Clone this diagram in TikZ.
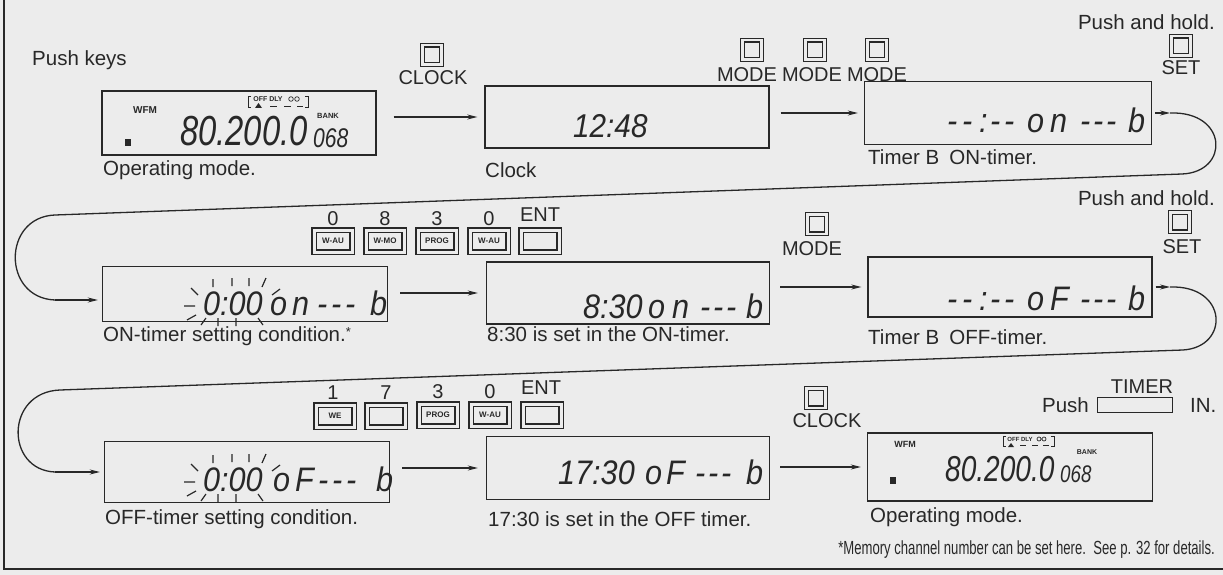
\documentclass[tikz,border=0pt]{standalone}
\usepackage{fontspec}
\usepackage{graphicx}
\setmainfont{Liberation Sans}
\newfontfamily\lcdfont{Liberation Sans}[FakeStretch=0.9]
\newfontfamily\lcdfontn{Liberation Sans}[FakeStretch=0.78]
\usetikzlibrary{arrows.meta,calc}
\definecolor{paper}{RGB}{236,236,236}
\definecolor{ink}{RGB}{40,40,40}
\newcommand\lcdc[2]{\makebox[#1pt][l]{#2}}
\newcommand\blinkrays[2]{%
\begin{scope}[shift={(#1,#2)}]
\draw[ray] (213,279)--(213,287) (232,278)--(232,286) (249,278)--(249,286) (266,278)--(262,287)
 (191,288)--(198,295) (280,289)--(272,295) (184,306)--(195,306) (187,320)--(196,315)
 (201,325)--(206,318) (218,318)--(218,326) (236,318)--(236,326) (258,318)--(263,325);
\end{scope}}
\begin{document}
\begin{tikzpicture}[x=1pt,y=-1pt,
  lcd/.style={draw=ink, line width=1.4pt, inner sep=0pt},
  lbl/.style={font=\fontsize{20.5}{24}\selectfont, text=ink, inner sep=0pt, anchor=west},
  keylbl/.style={font=\fontsize{20}{24}\selectfont, text=ink, inner sep=0pt},
  sqkey/.style={draw=ink, double=paper, double distance=2.5pt, line width=1.1pt, minimum width=19pt, minimum height=19.5pt, inner sep=0pt},
  rkey/.style={draw=ink, double=paper, double distance=3pt, line width=1.1pt, minimum width=38pt, minimum height=22pt, inner sep=0pt, font=\fontsize{8}{8}\selectfont\bfseries, text=ink},
  conn/.style={draw=ink, line width=1.3pt},
  arr/.style={conn, -{Stealth[length=10pt,width=5pt]}},
  ro/.style={font=\lcdfont\itshape\fontsize{34}{34}\selectfont, inner sep=0pt, anchor=base west, text=ink},
  ray/.style={draw=ink, line width=1.2pt},
  tinytxt/.style={font=\fontsize{7}{7}\selectfont\bfseries, inner sep=0pt, text=ink},
  ind/.style={draw=ink, line width=.7pt}]
\fill[paper] (0,0) rectangle (1223,575);
\useasboundingbox (0,0) rectangle (1223,575);
\draw[ink, line width=1.2pt] (4,0) -- (4,569) -- (1223,569);

% ---------- row 1
\node[lbl] (pushkeys) at (32,60) {Push keys};
\node[lcd, minimum width=274pt, minimum height=64pt] (b1) at (239,123) {};
\node[tinytxt, font=\fontsize{10}{10}\selectfont\bfseries] (wfma) at (145,110) {WFM};
\draw[ind] (251,96) -- (248,96) -- (248,107) -- (251,107) (305,96) -- (308,96) -- (308,107) -- (305,107);
\node[tinytxt] (odla) at (268,99) {OFF DLY};
\draw[ind] (291,99) circle (2.3) (297,99) circle (2.3);
\fill[ink] (255,108) -- (258.5,103) -- (262,108) -- cycle;
\draw[ink, line width=.8pt] (270,106) -- (277,106) (284,106) -- (291,106) (297,106) -- (303,106);
\node[tinytxt, font=\fontsize{7.5}{7.5}\selectfont\bfseries] (banka) at (328,116) {BANK};
\node[ro, font=\lcdfontn\itshape\fontsize{42}{42}\selectfont] (biga) at (180,146) {80.200.0};
\node[ro, font=\lcdfontn\itshape\fontsize{27}{27}\selectfont] (cha) at (313,147) {068};
\fill[ink] (125,139) rectangle (131,146);
\node[lbl] (l1) at (103,170) {Operating mode.};

\node[sqkey] (kclock1) at (432,55) {};
\node[keylbl] (tclock1) at (433,78) {CLOCK};
\node[lcd, minimum width=284pt, minimum height=62pt] (b2) at (627,117) {};
\node[ro, font=\lcdfont\itshape\fontsize{33}{33}\selectfont] (r2) at (573,138) {12:48};
\node[lbl] (l2) at (485,170) {Clock};
\draw[arr, shorten <=17pt, shorten >=7pt] (b1.east |- b2.west) -- (b2.west);

\node[sqkey] (km1) at (752,50) {};
\node[sqkey] (km2) at (815,50) {};
\node[sqkey] (km3) at (877,50) {};
\node[keylbl] (tm1) at (747,75) {MODE};
\node[keylbl] (tm2) at (812,75) {MODE};
\node[keylbl] (tm3) at (877,75) {MODE};
\node[lcd, minimum width=287pt, minimum height=63pt] (b3) at (1008,113) {};
\node[ro] (r3) at (947,133) {\lcdc{15}{-}\lcdc{17}{-}\lcdc{11}{:}\lcdc{14}{-}\lcdc{23}{-}\lcdc{23}{o}\lcdc{30}{n}\lcdc{13}{-}\lcdc{13}{-}\lcdc{22}{-}b};
\node[lbl] (l3) at (868,157) {Timer B\enspace ON-timer.};
\draw[arr, shorten <=11pt, shorten >=6pt] (b2.east |- b3.west) -- (b3.west);
\node[lbl, anchor=east] (ph1) at (1215,22) {Push and hold.};
\node[sqkey] (kset1) at (1181,46) {};
\node[keylbl] (tset1) at (1181,68) {SET};

% loop 1
\coordinate (c1a) at (1170,113);
\coordinate (c1b) at (1182,174);
\coordinate (c1c) at (55,215);
\coordinate (c1d) at (55,300);
\draw[arr, shorten <=3pt] (b3.east) -- (c1a);
\draw[conn] (c1a) .. controls (1228,111) and (1230,172) .. (c1b) -- (c1c) .. controls (2,217) and (2,298) .. (c1d);

% ---------- row 2
\node[keylbl] (n21) at (333,219) {0};
\node[keylbl] (n22) at (385,219) {8};
\node[keylbl] (n23) at (437,219) {3};
\node[keylbl] (n24) at (489,219) {0};
\node[keylbl] (n25) at (540,215) {ENT};
\node[rkey] (k21) at (333,241) {W-AU};
\node[rkey] (k22) at (385,241) {W-MO};
\node[rkey] (k23) at (437,241) {PROG};
\node[rkey] (k24) at (489,241) {W-AU};
\node[rkey] (k25) at (540,241) {};

\node[lcd, minimum width=285pt, minimum height=55pt] (b4) at (245,294) {};
\draw[arr, shorten >=4pt] (c1d) -- (c1d -| b4.west);
\node[ro] (r4) at (203,315) {\lcdc{67}{0:00}\lcdc{22}{o}\lcdc{25}{n}\lcdc{14}{-}\lcdc{14}{-}\lcdc{25}{-}b};
\blinkrays{0}{0}
\node[lbl] (l4) at (103,336) {ON-timer setting condition.\raisebox{5pt}{\fontsize{13}{13}\selectfont *}};

\node[lcd, minimum width=283pt, minimum height=62pt] (b5) at (628,293) {};
\draw[arr, shorten <=12pt, shorten >=8pt] (b4.east |- b5.west) -- (b5.west);
\node[ro] (r5) at (583,318) {\lcdc{65}{8:30}\lcdc{24}{o}\lcdc{28}{n}\lcdc{13}{-}\lcdc{13}{-}\lcdc{20}{-}b};
\node[lbl] (l5) at (487,334) {8:30 is set in the ON-timer.};

\node[sqkey] (km4) at (817,224) {};
\node[keylbl] (tm4) at (812,249) {MODE};
\node[lcd, minimum width=284pt, minimum height=60pt] (b6) at (1010,287) {};
\draw[arr, shorten <=10pt, shorten >=6pt] (b5.east |- b6.west) -- (b6.west);
\node[ro] (r6) at (947,310) {\lcdc{15}{-}\lcdc{17}{-}\lcdc{11}{:}\lcdc{14}{-}\lcdc{23}{-}\lcdc{23}{o}\lcdc{30}{F}\lcdc{13}{-}\lcdc{13}{-}\lcdc{22}{-}b};
\node[lbl] (l6) at (868,337) {Timer B\enspace OFF-timer.};
\node[lbl, anchor=east] (ph2) at (1215,198) {Push and hold.};
\node[sqkey] (kset2) at (1180,222) {};
\node[keylbl] (tset2) at (1182,247) {SET};

% loop 2
\coordinate (c2a) at (1170,287);
\coordinate (c2b) at (1183,350);
\coordinate (c2c) at (60,390);
\coordinate (c2d) at (55,472);
\draw[arr, shorten <=3pt] (b6.east) -- (c2a);
\draw[conn] (c2a) .. controls (1228,285) and (1230,347) .. (c2b) -- (c2c) .. controls (5,392) and (5,470) .. (c2d);

% ---------- row 3
\node[keylbl] (n31) at (333,393) {1};
\node[keylbl] (n32) at (386,393) {7};
\node[keylbl] (n33) at (438,392) {3};
\node[keylbl] (n34) at (490,392) {0};
\node[keylbl] (n35) at (541,388) {ENT};
\node[rkey] (k31) at (335,416) {WE};
\node[rkey] (k32) at (386,416) {};
\node[rkey] (k33) at (438,415) {PROG};
\node[rkey] (k34) at (490,415) {W-AU};
\node[rkey] (k35) at (542,415) {};

\node[lcd, minimum width=285pt, minimum height=61pt] (b7) at (247,472) {};
\draw[arr, shorten >=4pt] (c2d) -- (c2d -| b7.west);
\node[ro] (r7) at (203,491) {\lcdc{70}{0:00}\lcdc{22}{o}\lcdc{23}{F}\lcdc{14}{-}\lcdc{14}{-}\lcdc{30}{-}b};
\blinkrays{0}{176}
\node[lbl] (l7) at (105,519) {OFF-timer setting condition.};

\node[lcd, minimum width=283pt, minimum height=63pt] (b8) at (628,468) {};
\draw[arr, shorten <=12pt, shorten >=8pt] (b7.east |- b8.west) -- (b8.west);
\node[ro] (r8) at (558,484) {\lcdc{87}{17:30}\lcdc{21}{o}\lcdc{29}{F}\lcdc{13}{-}\lcdc{13}{-}\lcdc{25}{-}b};
\node[lbl] (l8) at (488,519) {17:30 is set in the OFF timer.};

\node[sqkey] (kclock2) at (816,398) {};
\node[keylbl] (tclock2) at (827,421) {CLOCK};
\node[lcd, minimum width=285pt, minimum height=68pt] (b9) at (1010,467) {};
\draw[arr, shorten <=10pt, shorten >=6pt] (b8.east |- b9.west) -- (b9.west);
\node[tinytxt, font=\fontsize{9}{9}\selectfont\bfseries] (wfmb) at (905,444) {WFM};
\draw[ind] (1006,436) -- (1003,436) -- (1003,446) -- (1006,446) (1051,436) -- (1054,436) -- (1054,446) -- (1051,446);
\node[tinytxt, font=\fontsize{6}{6}\selectfont\bfseries] (odlb) at (1020,439) {OFF DLY};
\draw[ind] (1039,439) circle (2) (1044,439) circle (2);
\fill[ink] (1008,447) -- (1011,443) -- (1014,447) -- cycle;
\draw[ink, line width=.8pt] (1020,445) -- (1026,445) (1032,445) -- (1038,445) (1043,445) -- (1049,445);
\node[tinytxt, font=\fontsize{7}{7}\selectfont\bfseries] (bankb) at (1087,452) {BANK};
\node[ro, font=\lcdfontn\itshape\fontsize{36}{36}\selectfont] (bigb) at (945,481) {80.200.0};
\node[ro, font=\lcdfontn\itshape\fontsize{24}{24}\selectfont] (chb) at (1060,482) {068};
\fill[ink] (890,477) rectangle (896,484);
\node[lbl] (l9) at (870,517) {Operating mode.};
\node[lbl, anchor=east] (push3) at (1089,405) {Push};
\node[keylbl] (ttimer) at (1142,387) {TIMER};
\node[draw=ink, line width=1pt, minimum width=75pt, minimum height=15pt, inner sep=0pt] (ktimer) at (1135,405) {};
\node[lbl] (in3) at (1190,405) {IN.};

\node[anchor=base east, inner sep=0pt, text=ink] (foot) at (1215,554) {\scalebox{0.69}[1]{\fontsize{19}{19}\selectfont *Memory channel number can be set here.\ \ See p. 32 for details.}};
\end{tikzpicture}
\end{document}
